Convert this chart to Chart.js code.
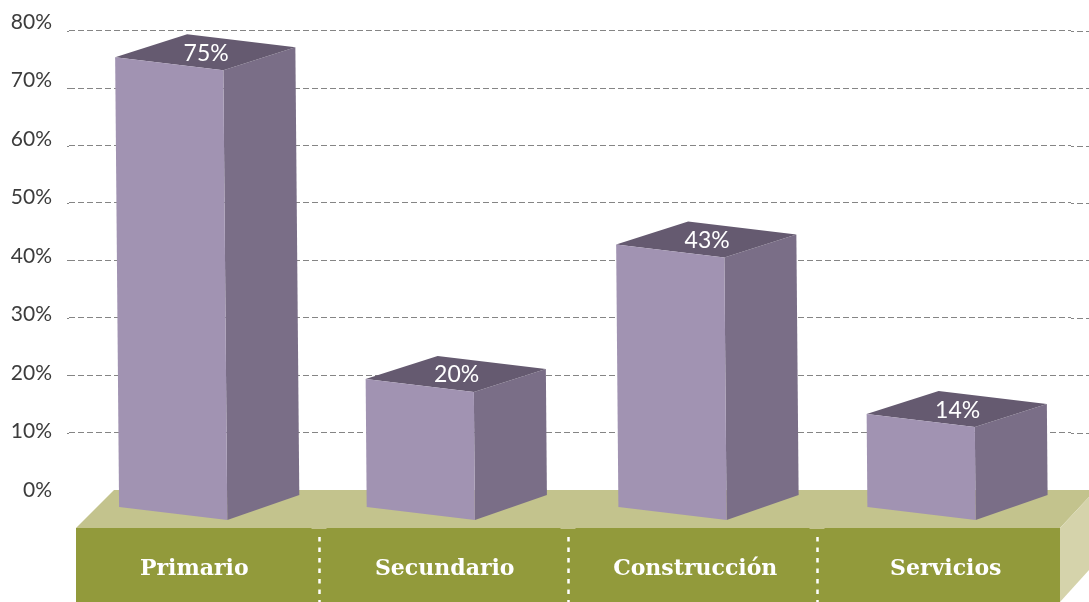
<!DOCTYPE html>
<html><head><meta charset="utf-8">
<style>html,body{margin:0;padding:0;background:#fff;overflow:hidden}canvas{display:block}</style>
<script src="https://cdn.jsdelivr.net/npm/chart.js@4/dist/chart.umd.min.js"></script>
</head><body><canvas id="c" width="1089" height="602"></canvas>
<script>
const categories = ["Primario", "Secundario", "Construcción", "Servicios"];
const values = [75, 20, 43, 14];
const valueLabels = ["75%", "20%", "43%", "14%"];
const tickStep = 10;
const axisMax = 80;

const FRONT = "#a193b2", SIDE = "#7a6e87", TOP = "#655a70";
const BASE_TOP = "#c3c38d", BASE_FRONT = "#929a3b", BASE_SIDE = "#d5d3ab";
const GRID = "#858585";
const DASH = [6, 3];

function poly(ctx, pts, fill) {
  ctx.beginPath();
  pts.forEach((p, i) => i ? ctx.lineTo(p[0], p[1]) : ctx.moveTo(p[0], p[1]));
  ctx.closePath();
  ctx.fillStyle = fill;
  ctx.fill();
}

const scene = {
  id: "scene",
  beforeDraw(chart) {
    const { ctx, chartArea: a, width, height } = chart;
    const b = a.bottom;
    ctx.save();
    poly(ctx, [[76, b + 38], [114, b], [width, b], [width, b + 7], [1060, b + 38]], BASE_TOP);
    poly(ctx, [[76, b + 38], [1060, b + 38], [1060, height], [76, height]], BASE_FRONT);
    poly(ctx, [[1060, b + 38], [width, b + 7], [width, b + 80], [1060, height]], BASE_SIDE);
    for (let i = 0; i < categories.length - 1; i++) {
      const m = 319.5 + 249 * i;
      ctx.fillStyle = BASE_TOP;
      ctx.fillRect(m - 8, b + 38, 15, 1);
      ctx.strokeStyle = "#ffffff";
      ctx.lineWidth = 2.5;
      ctx.setLineDash([4.5, 6]);
      ctx.beginPath();
      ctx.moveTo(m, b + 47);
      ctx.lineTo(m, height);
      ctx.stroke();
    }
    ctx.restore();
  },
  beforeDatasetsDraw(chart) {
    const { ctx, scales: { y }, chartArea: a, width } = chart;
    ctx.save();
    ctx.strokeStyle = GRID;
    ctx.lineWidth = 1;
    ctx.setLineDash(DASH);
    const period = DASH[0] + DASH[1];
    y.ticks.forEach((t, i) => {
      if (t.value === 0) return;
      const p = Math.round(y.getPixelForTick(i)) + 0.5;
      ctx.lineDashOffset = (a.right - a.left) % period;
      ctx.beginPath();
      ctx.moveTo(a.right, p); ctx.lineTo(width, p);
      ctx.stroke();
      ctx.lineDashOffset = 0;
      ctx.beginPath();
      ctx.moveTo(67, p); ctx.lineTo(a.left, p);
      ctx.stroke();
    });
    ctx.restore();
  },
  beforeDatasetDraw(chart, args) {
    const { ctx } = chart;
    const meta = args.meta;
    ctx.save();
    meta.data.forEach((bar, i) => {
      const h = bar.base - bar.y;
      const w = bar.width;
      const lx = bar.x - w / 2 - 25, ty = bar.y + 6;
      const lean = 0.009 * h;
      const tl = [lx, ty], tr = [lx + w, ty + 13];
      const bl = [lx + lean, bar.base + 17], br = [lx + lean + w, bar.base + 30];
      const bk = [tr[0] + 72, tr[1] - 23], bb = [br[0] + 72, br[1] - 25];
      const ap = [tl[0] + 72, tl[1] - 23];
      poly(ctx, [tr, bk, bb, br], SIDE);
      poly(ctx, [tl, ap, bk, tr], TOP);
      poly(ctx, [tl, tr, br, bl], bar.options.backgroundColor);
      ctx.fillStyle = "#ffffff";
      ctx.font = '23px Lato';
      ctx.textAlign = "center";
      ctx.textBaseline = "middle";
      ctx.fillText(valueLabels[i], lx + 91, ty - 4);
    });
    ctx.restore();
    return false;
  }
};

new Chart(document.getElementById("c"), {
  type: "bar",
  plugins: [scene],
  data: {
    labels: categories,
    datasets: [{
      data: values,
      yAxisID: "y2",
      backgroundColor: FRONT,
      barPercentage: 0.72,
      categoryPercentage: 0.6
    }]
  },
  options: {
    responsive: false,
    animation: false,
    layout: { padding: { top: 22, right: 18, bottom: 0, left: 0 } },
    plugins: { legend: { display: false }, tooltip: { enabled: false } },
    scales: {
      x: {
        grid: { display: false },
        border: { display: false },
        ticks: {
          color: "#ffffff",
          padding: 58,
          maxRotation: 0,
          autoSkip: false,
          font: { family: "DejaVu Serif", size: 22, weight: "bold" }
        },
        afterFit(s) { s.height = 112; s.paddingLeft = 0; s.paddingRight = 0; }
      },
      y: {
        position: "left",
        min: 0,
        max: 81.53,
        grid: {
          color: c => c.tick.value === 0 ? "rgba(0,0,0,0)" : GRID,
          drawTicks: false,
          lineWidth: 1
        },
        border: { display: false, dash: DASH },
        ticks: { display: false, stepSize: tickStep, includeBounds: false },
        afterFit(s) { s.width = 0; s.paddingTop = 0; s.paddingBottom = 0; }
      },
      y2: {
        position: "left",
        min: 0,
        max: axisMax,
        grid: { display: false, drawTicks: false },
        border: { display: false },
        ticks: {
          stepSize: tickStep,
          color: "#3c3c3c",
          padding: 17,
          font: { family: "Lato", size: 21 },
          callback: v => v + "%"
        },
        afterFit(s) { s.width = 69; s.paddingTop = 0; s.paddingBottom = 0; }
      }
    }
  }
});
</script></body></html>
